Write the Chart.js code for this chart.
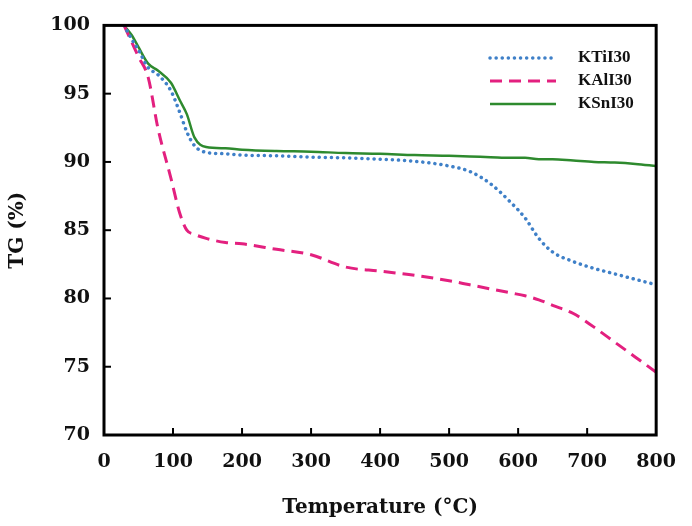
<!DOCTYPE html>
<html>
<head>
<meta charset="utf-8">
<script src="https://cdn.jsdelivr.net/npm/chart.js@4"></script>
<style>
  html, body { margin: 0; padding: 0; background: #fff; }
  #wrap { width: 692px; height: 526px; }
</style>
</head>
<body>
<div id="wrap"><canvas id="tg-chart"></canvas></div>
<script>
var tempC = [29, 40, 50, 64, 78, 97, 110, 120, 131, 148, 176, 200, 250, 300, 350, 400, 450, 500, 530, 560, 590, 610, 630, 650, 680, 710, 740, 770, 800];
var kTiI30 = [100, 99.0, 98.2, 96.9, 96.4, 95.2, 93.6, 92.2, 91.2, 90.7, 90.6, 90.5, 90.45, 90.35, 90.3, 90.2, 90.05, 89.7, 89.3, 88.4, 87.0, 85.9, 84.4, 83.4, 82.7, 82.2, 81.8, 81.4, 81.0];
var kAlI30 = [100, 98.8, 97.7, 96.2, 92.5, 88.8, 86.2, 85.0, 84.7, 84.4, 84.1, 84.0, 83.6, 83.2, 82.3, 82.0, 81.7, 81.3, 81.0, 80.7, 80.4, 80.2, 79.9, 79.5, 78.9, 77.9, 76.8, 75.7, 74.6];
var kSnI30 = [100, 99.3, 98.4, 97.2, 96.7, 95.8, 94.5, 93.5, 91.8, 91.1, 91.0, 90.9, 90.8, 90.75, 90.65, 90.6, 90.5, 90.45, 90.4, 90.35, 90.3, 90.3, 90.2, 90.2, 90.1, 90.0, 89.95, 89.85, 89.7];
var seriesNames = ["KTiI30", "KAlI30", "KSnI30"];

function pts(arr) {
  return tempC.map(function (t, i) { return { x: t, y: arr[i] }; });
}

// frame, inward ticks and the in-plot legend
var framePlugin = {
  id: 'frame',
  afterDraw: function (chart) {
    var ctx = chart.ctx, a = chart.chartArea;
    var xs = chart.scales.x, ys = chart.scales.y;
    ctx.save();
    ctx.strokeStyle = '#000';
    ctx.lineWidth = 2;
    xs.ticks.forEach(function (t) {
      if (t.value <= xs.min || t.value >= xs.max) return;
      var px = xs.getPixelForValue(t.value);
      ctx.beginPath(); ctx.moveTo(px, a.bottom); ctx.lineTo(px, a.bottom - 7); ctx.stroke();
    });
    ys.ticks.forEach(function (t) {
      if (t.value <= ys.min || t.value >= ys.max) return;
      var py = ys.getPixelForValue(t.value);
      ctx.beginPath(); ctx.moveTo(a.left, py); ctx.lineTo(a.left + 7, py); ctx.stroke();
    });
    ctx.lineWidth = 3;
    ctx.strokeRect(a.left, a.top, a.right - a.left, a.bottom - a.top);

    // legend
    var rowY = [58, 81, 104];
    chart.data.datasets.forEach(function (ds, i) {
      ctx.save();
      ctx.strokeStyle = ds.borderColor;
      ctx.lineWidth = ds.borderWidth;
      ctx.lineCap = ds.borderCapStyle || 'butt';
      ctx.setLineDash(ds.borderDash || []);
      ctx.beginPath(); ctx.moveTo(490, rowY[i]); ctx.lineTo(556, rowY[i]); ctx.stroke();
      ctx.restore();
      ctx.fillStyle = '#111';
      ctx.font = 'bold 17px "Liberation Serif"';
      ctx.textBaseline = 'middle';
      ctx.fillText(ds.label, 578, rowY[i]);
    });
    ctx.restore();
  }
};

new Chart(document.getElementById('tg-chart'), {
  type: 'line',
  data: {
    datasets: [{
      label: seriesNames[0],
      data: pts(kTiI30),
      borderColor: '#3f80c8',
      borderWidth: 3.5,
      borderDash: [0.1, 6],
      borderCapStyle: 'round'
    }, {
      label: seriesNames[1],
      data: pts(kAlI30),
      borderColor: '#e3207f',
      borderWidth: 3,
      borderDash: [12, 7]
    }, {
      label: seriesNames[2],
      data: pts(kSnI30),
      borderColor: '#2e8a2e',
      borderWidth: 2.5
    }]
  },
  options: {
    responsive: true,
    maintainAspectRatio: false,
    animation: false,
    layout: { padding: { top: 25, right: 16, left: 0, bottom: 0 } },
    elements: { point: { radius: 0 }, line: { cubicInterpolationMode: 'monotone' } },
    plugins: { legend: { display: false }, tooltip: { enabled: false } },
    scales: {
      x: {
        type: 'linear', min: 0, max: 800,
        afterFit: function (s) { s.height = 91; },
        grid: { display: false, drawTicks: false },
        border: { display: false },
        ticks: { stepSize: 100, padding: 16, color: '#111', font: { family: '"DejaVu Serif"', weight: 'bold', size: 19 } },
        title: { display: true, text: 'Temperature (°C)', color: '#111', padding: { top: 0, bottom: 6 }, font: { family: '"DejaVu Serif"', weight: 'bold', size: 20 } }
      },
      y: {
        min: 70, max: 100,
        afterFit: function (s) { s.width = 104; },
        grid: { display: false, drawTicks: false },
        border: { display: false },
        ticks: { stepSize: 5, padding: 14, color: '#111', font: { family: '"DejaVu Serif"', weight: 'bold', size: 19 } },
        title: { display: true, text: 'TG (%)', color: '#111', padding: { top: 6, bottom: 0 }, font: { family: '"DejaVu Serif"', weight: 'bold', size: 20 } }
      }
    }
  },
  plugins: [framePlugin]
});
</script>
</body>
</html>
